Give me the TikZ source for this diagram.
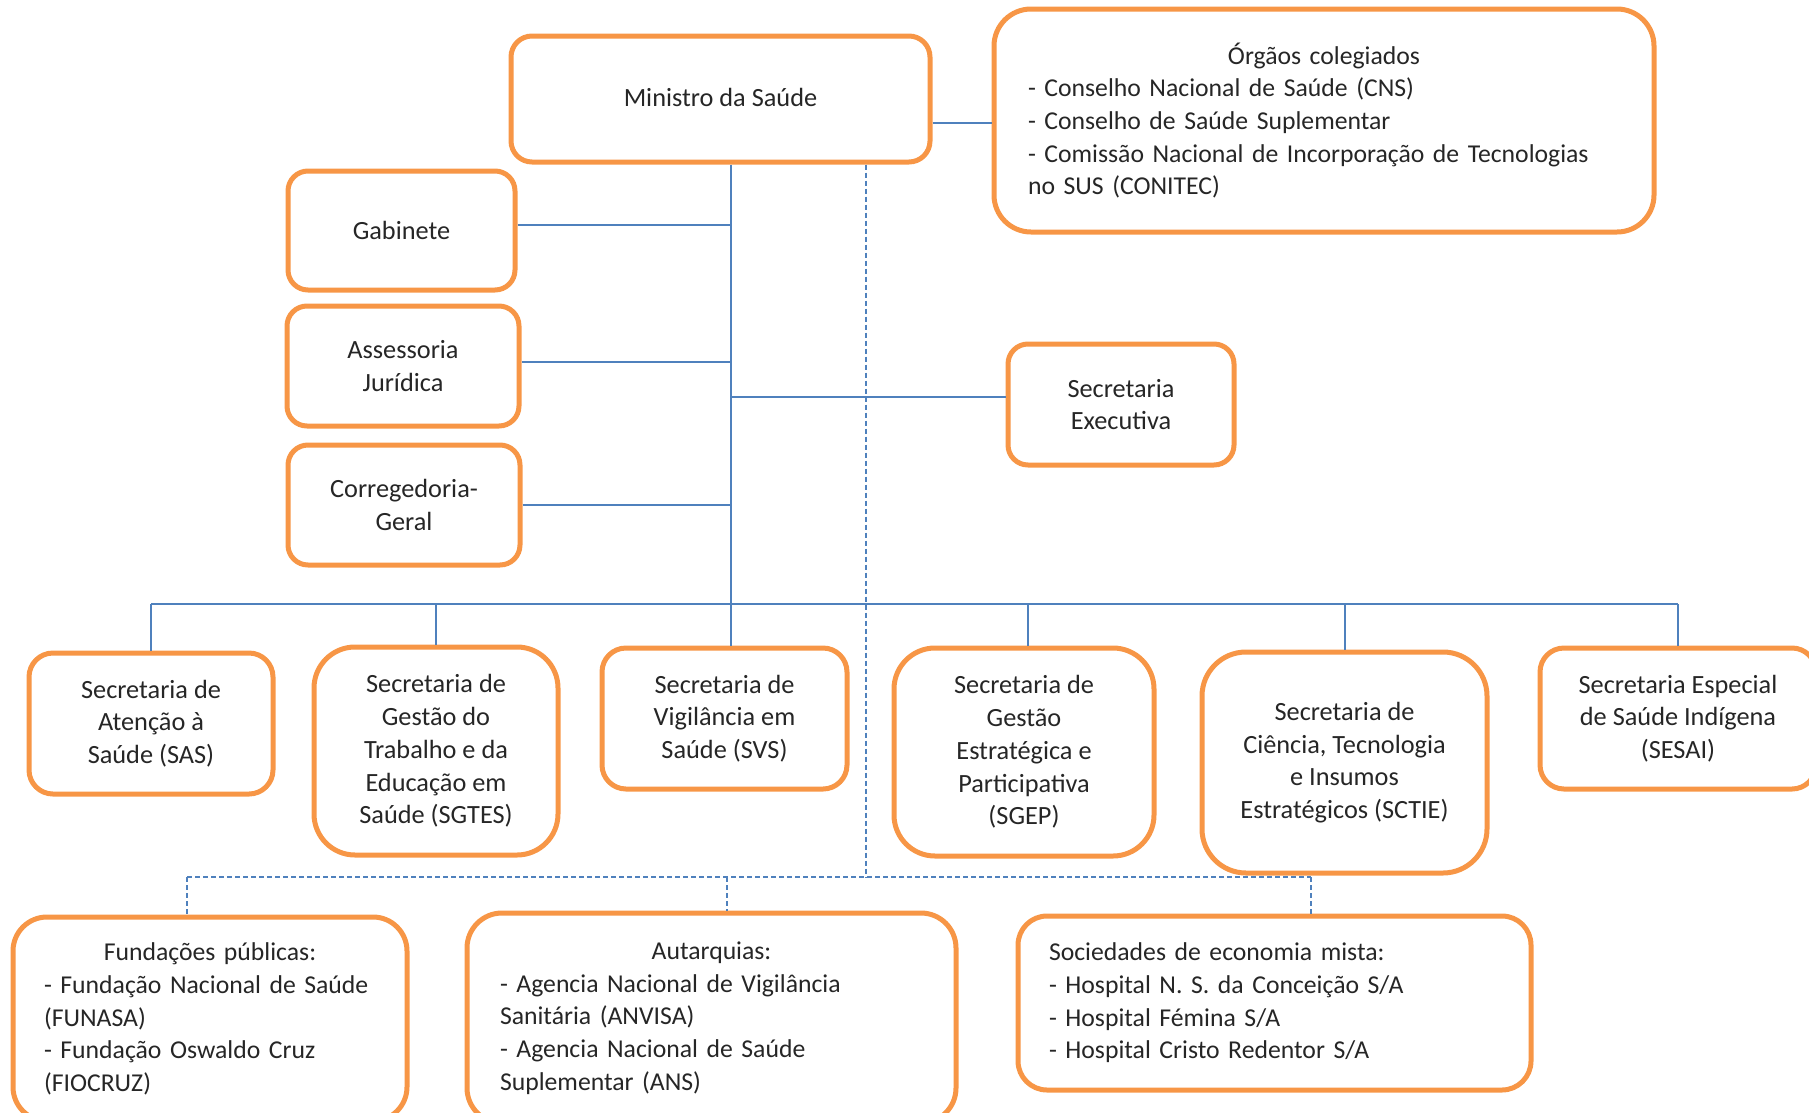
\documentclass[tikz,border=0pt]{standalone}
\usepackage{fontspec}
\setmainfont{Carlito}
\definecolor{boxorange}{RGB}{247,150,70}
\definecolor{lineblue}{RGB}{79,129,189}

\begin{document}
\begin{tikzpicture}[x=1pt,y=-1pt]
    \tikzset{block/.style= {draw=boxorange, line width=5pt, rectangle
    , rounded corners=22pt
    , fill=white
    , inner sep=0pt
    , align=center
    , text=black!85
    , font=\fontsize{26.3}{32.7}\selectfont\frenchspacing
      }
    , listblock/.style={block, align=left
    , font=\fontsize{25.7}{32.7}\selectfont\frenchspacing
      }
    , link/.style={draw=lineblue, line width=2pt}
    , dlink/.style={link, dash pattern=on 5pt off 3pt}
    }

\useasboundingbox (0,0) rectangle (1809,1112);
\clip (0,0) rectangle (1809,1112);

\node [block, minimum width=419pt, minimum height=126pt, rounded corners=21pt] (mins) at (720.5,99) {\raisebox{4pt}{Ministro da Saúde}};
\node [listblock, minimum width=660pt, minimum height=223pt, rounded corners=37pt, text width=592pt] (orgaos) at (1324,120.5)
  {\hbox to \hsize{\hfil Órgãos colegiados\hfil}\\- Conselho Nacional de Saúde (CNS)\\- Conselho de Saúde Suplementar\\- Comissão Nacional de Incorporação de Tecnologias\\no SUS (CONITEC)};

\node [block, minimum width=227pt, minimum height=119pt, rounded corners=20pt] (gab) at (401.5,230.5) {Gabinete};
\node [block, minimum width=232pt, minimum height=120pt, rounded corners=20pt] (asses) at (403,366) {Assessoria\\Jurídica};
\node [block, minimum width=232pt, minimum height=120pt, rounded corners=20pt] (correg) at (404,505) {Corregedoria-\\Geral};
\node [block, minimum width=226pt, minimum height=121pt, rounded corners=20pt] (exec) at (1121,404.5) {Secretaria\\Executiva};

\node [block, minimum width=244pt, minimum height=141pt, rounded corners=24pt] (sas) at (151,723.5) {Secretaria de\\Atenção à\\Saúde (SAS)};
\node [block, minimum width=244pt, minimum height=208pt, rounded corners=41pt] (sgtes) at (436,751) {Secretaria de\\Gestão do\\Trabalho e da\\Educação em\\Saúde (SGTES)};
\node [block, minimum width=245pt, minimum height=141pt, rounded corners=24pt] (svs) at (724.5,718.5) {Secretaria de\\Vigilância em\\Saúde (SVS)};
\node [block, minimum width=260pt, minimum height=208pt, rounded corners=41pt] (sgep) at (1024,752) {Secretaria de\\Gestão\\Estratégica e\\Participativa\\(SGEP)};
\node [block, minimum width=285pt, minimum height=221pt, rounded corners=44pt] (sctie) at (1344.5,762.5) {Secretaria de\\Ciência, Tecnologia\\e Insumos\\Estratégicos (SCTIE)};
\node [block, minimum width=276pt, minimum height=141pt, rounded corners=24pt] (sesai) at (1678,718.5) {Secretaria Especial\\de Saúde Indígena\\(SESAI)};

\node [listblock, minimum width=394pt, minimum height=204pt, rounded corners=34pt, text width=332pt] (fund) at (210,1019)
  {\hbox to \hsize{\hfil Fundações públicas:\hfil}\\- Fundação Nacional de Saúde\\(FUNASA)\\- Fundação Oswaldo Cruz\\(FIOCRUZ)};
\node [listblock, minimum width=489pt, minimum height=210pt, rounded corners=35pt, text width=423pt] (autarq) at (711.5,1018)
  {\hbox to \hsize{\hfil Autarquias:\hfil}\\- Agencia Nacional de Vigilância\\Sanitária (ANVISA)\\- Agencia Nacional de Saúde\\Suplementar (ANS)};
\node [listblock, minimum width=513pt, minimum height=174pt, rounded corners=29pt, text width=451pt] (soc) at (1274.5,1003)
  {Sociedades de economia mista:\\- Hospital N. S. da Conceição S/A\\- Hospital Fémina S/A\\- Hospital Cristo Redentor S/A};

\coordinate (trunk) at (731,604);
\coordinate (dbus) at (866,877);
\coordinate (dfund) at (187,877);
\coordinate (daut) at (727,877);
\coordinate (dsoc) at (1311,877);

 \path[link]
  ([yshift=-24pt]mins.east) -- ([yshift=-24pt]mins.east -| orgaos.west);
 \path[link]
  (mins.south -| trunk) -- (svs.north -| trunk);
 \path[link] ([yshift=6pt]gab.east) -- ([yshift=6pt]gab.east -| trunk);
 \path[link] ([yshift=4pt]asses.east) -- ([yshift=4pt]asses.east -| trunk);
 \path[link] (correg.east) -- (correg.east -| trunk);
 \path[link] ([yshift=8pt]exec.west -| trunk) -- ([yshift=8pt]exec.west);

 \path[link]
  (sas.north |- trunk) -- (sesai.north |- trunk);
 \path[link] (sas.north |- trunk) -- (sas.north);
 \path[link] (sgtes.north |- trunk) -- (sgtes.north);
 \path[link] ([xshift=4pt]sgep.north |- trunk) -- ([xshift=4pt]sgep.north);
 \path[link] (sctie.north |- trunk) -- (sctie.north);
 \path[link] (sesai.north |- trunk) -- (sesai.north);

 \path[dlink]
  (mins.south -| dbus) -- (dbus);
 \path[dlink] (dfund) -- (dsoc);
 \path[dlink] (dfund) -- (dfund |- fund.north);
 \path[dlink] (daut) -- (daut |- autarq.north);
 \path[dlink] (dsoc) -- (dsoc |- soc.north);
\end{tikzpicture}
\end{document}
